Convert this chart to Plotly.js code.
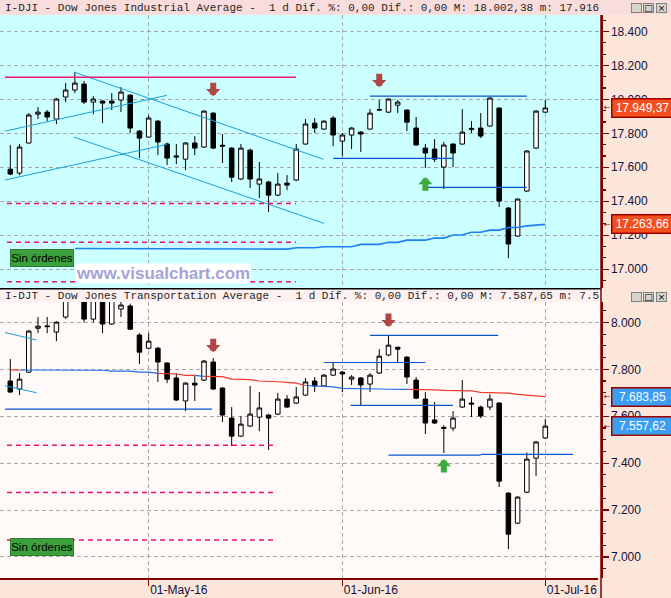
<!DOCTYPE html>
<html><head><meta charset="utf-8">
<script src="https://cdn.plot.ly/plotly-3.0.1.min.js"></script>
<style>html,body{margin:0;padding:0;background:#FCE6DA;overflow:hidden}#chart{width:671px;height:598px}</style>
</head><body><div id="chart"></div>
<script>
// ---------- DATA ----------
const dates = ['2016-04-11','2016-04-12','2016-04-13','2016-04-14','2016-04-15','2016-04-18','2016-04-19','2016-04-20','2016-04-21','2016-04-22','2016-04-25','2016-04-26','2016-04-27','2016-04-28','2016-04-29',
'2016-05-02','2016-05-03','2016-05-04','2016-05-05','2016-05-06','2016-05-09','2016-05-10','2016-05-11','2016-05-12','2016-05-13','2016-05-16','2016-05-17','2016-05-18','2016-05-19','2016-05-20','2016-05-23','2016-05-24','2016-05-25','2016-05-26','2016-05-27','2016-05-31',
'2016-06-01','2016-06-02','2016-06-03','2016-06-06','2016-06-07','2016-06-08','2016-06-09','2016-06-10','2016-06-13','2016-06-14','2016-06-15','2016-06-16','2016-06-17','2016-06-20','2016-06-21','2016-06-22','2016-06-23','2016-06-24','2016-06-27','2016-06-28','2016-06-29','2016-06-30',
'2016-07-01'];

const djiOpen  = [17589,17566,17743,17913,17925,17884,18014,18055,18090,17984,17990,17990,17996,18025,17813,17778,17872,17737,17660,17648,17743,17719,17919,17730,17713,17531,17701,17501,17513,17436,17507,17525,17737,17860,17825,17890,17754,17790,17807,17825,17937,17925,17966,17937,17831,17713,17707,17601,17737,17737,17822,17831,17843,17949,17360,17195,17460,17713,17925];
const djiHigh  = [17731,17737,17919,17955,17937,18008,18096,18161,18108,18019,17995,18037,18072,18030,17820,17908,17878,17745,17737,17748,17784,17935,17925,17796,17718,17737,17710,17631,17520,17566,17554,17737,17884,17890,17876,17902,17802,17836,17813,17943,17996,18005,17996,17940,17896,17737,17766,17749,17740,17943,17872,17919,18011,17952,17365,17416,17700,17935,17996];
const djiLow   = [17554,17554,17740,17884,17872,17854,17984,18037,17972,17913,17860,17937,17925,17802,17654,17775,17672,17613,17619,17584,17672,17715,17708,17625,17513,17525,17478,17419,17336,17430,17466,17520,17733,17802,17820,17725,17666,17707,17690,17820,17935,17920,17919,17813,17728,17595,17631,17472,17601,17733,17802,17772,17840,17366,17065,17190,17455,17708,17920];
const djiClose = [17560,17719,17908,17925,17896,18002,18055,18096,17984,18002,17978,17978,18043,17831,17772,17890,17749,17654,17666,17743,17713,17931,17713,17725,17542,17713,17531,17531,17436,17501,17495,17707,17855,17831,17872,17790,17790,17831,17796,17919,17939,18002,17984,17866,17731,17684,17648,17731,17684,17807,17829,17784,18008,17401,17148,17413,17696,17931,17949.37];
const djiMA    = [null,null,null,null,null,null,null,17122,17122,17122,17122,17122,17122,17122,17122,17122,17122,17122,17122,17122,17122,17122,17122,17122,17122,17122,17122,17122,17122,17118,17118,17126,17126,17126,17132,17132,17132,17132,17146,17146,17146,17158,17158,17171,17171,17171,17183,17183,17201,17201,17217,17217,17230,17230,17245,17245,17255,17260,17263.66];

const djtOpen  = [7750,7716,7788,7975,7985,7959,8023,8120,8160,8014,8110,7993,8057,8070,7946,7890,7890,7827,7763,7665,7741,7754,7831,7720,7592,7515,7558,7596,7605,7609,7673,7656,7690,7750,7729,7775,7788,7758,7763,7737,7784,7861,7894,7852,7754,7673,7584,7552,7549,7639,7656,7639,7639,7656,7272,7144,7276,7421,7507];
const djtHigh  = [7844,7784,7967,8023,8023,8005,8140,8200,8175,8130,8120,8110,8100,8080,7954,7954,7895,7830,7784,7745,7771,7840,7848,7724,7639,7600,7729,7703,7610,7699,7690,7724,7763,7767,7780,7827,7792,7775,7767,7784,7886,7942,7896,7856,7767,7703,7660,7562,7622,7754,7682,7645,7694,7660,7276,7258,7445,7494,7588];
const djtLow   = [7700,7690,7785,7954,7954,7920,8015,8100,8001,8001,7954,7990,8023,7968,7822,7885,7746,7741,7665,7622,7665,7750,7712,7575,7473,7512,7555,7536,7456,7605,7635,7652,7686,7703,7725,7771,7703,7733,7648,7703,7780,7856,7831,7737,7673,7524,7567,7443,7536,7635,7596,7592,7626,7298,7033,7140,7272,7345,7503];
const djtClose = [7703,7758,7963,7984,7982,8001,8120,8170,8014,8110,7993,8095,8074,7971,7873,7920,7831,7758,7669,7741,7733,7835,7716,7605,7515,7566,7609,7635,7592,7673,7639,7682,7746,7729,7775,7801,7780,7767,7733,7775,7856,7903,7886,7767,7677,7571,7571,7549,7592,7673,7652,7601,7673,7323,7097,7255,7417,7490,7557.62];
const djtMA    = [7797,7797,7797,7797,7797,7797,7797,7797,7797,7797,7796,7792,7792,7792,7788,7788,7783,7782,7780,7774,7774,7770,7770,7769,7758,7758,7756,7750,7750,7747,7744,7741,7731,7730,7728,7725,7719,7719,7718,7717,7716,7715,7715,7714,7714,7713,7712,7710,7710,7709,7708,7702,7701,7700,7698,7693,7690,7687,7683.85];
const djtMaRedSpans = [[0,1],[16,20],[21,32],[43,58]];   // trading-day index spans where the average is drawn red

// drawn studies (x in trading-day index, y in index points)
const djiChannelX = [[6.91,33.93],[6.91,33.98],[-0.58,16.99],[-0.58,16.99]];
const djiChannelY = [[18161,17647],[17778,17270],[17813,18024],[17525,17735]];
const djiResX = [-0.58,30.97], djiResLevel = 18130;
const djiDashX = [-0.36,30.97], djiDashLevels = [17387,17158,16926];
const djiBlueX = [[39.0,56.0],[35.0,48.0],[45.0,56.0]];
const djiBlueLevels = [18019,17652,17482];
const djiSellIdx = [22,40], djiSellLevel = [18019,18072];
const djiBuyIdx = [45], djiBuyLevel = [17542];

const djtChannelX = [[-0.58,2.86],[-0.58,2.86]];
const djtChannelY = [[7957,7925],[7730,7700]];
const djtDashX = [-0.36,28.7], djtDashLevels = [7476,7275,7072];
const djtBlueX = [[-0.58,21.87],[34.0,45.0],[39.0,52.9],[36.9,48.0],[41.0,51.0],[51.0,61.0]];
const djtBlueLevels = [7630,7829,7945,7646,7434,7437];
const djtSellIdx = [22,41], djtSellLevel = [7873,7980];
const djtBuyIdx = [47], djtBuyLevel = [7417];

const monthNames = ['Jan','Feb','Mar','Apr','May','Jun','Jul','Aug','Sep','Oct','Nov','Dec'];
const titleDJI = 'I-DJI - Dow Jones Industrial Average -\u00a0\u00a01 d Dif. %: 0,00 Dif.: 0,00 M: 18.002,38 m: 17.916';
const titleDJT = 'I-DJT - Dow Jones Transportation Average -\u00a0\u00a01 d Dif. %: 0,00 Dif.: 0,00 M: 7.587,65 m: 7.5';

// ---------- BUILD ----------
const idx = dates.map((d,i)=>i);
const tickvals = [], ticktext = [];
for (let i=1;i<dates.length;i++){
  if (dates[i].slice(5,7)!==dates[i-1].slice(5,7)){
    tickvals.push(i);
    const p = dates[i].split('-');
    ticktext.push('01-'+monthNames[+p[1]-1]+'-'+p[0].slice(2));
  }
}
function fmtEs(v){ const s=v.toFixed(2).split('.'); return s[0].replace(/\B(?=(\d{3})+(?!\d))/g,'.')+','+s[1]; }

const traces = [];
function seg(xs, ys, ax, color, width, dash){
  traces.push({type:'scatter', mode:'lines', x:xs, y:ys, yaxis:ax, xaxis:'x',
    line:{color:color, width:width, dash:dash||'solid'}, hoverinfo:'skip'});
}
// top panel studies
djiChannelX.forEach((xs,k)=>seg(xs, djiChannelY[k], 'y', '#1AA0DC', 1));
seg(djiResX, [djiResLevel,djiResLevel], 'y', '#F0187A', 1.4);
djiDashLevels.forEach(l=>seg(djiDashX,[l,l],'y','#E8106E',1.5,'5px,4px'));
djiBlueX.forEach((xs,k)=>seg(xs,[djiBlueLevels[k],djiBlueLevels[k]],'y','#0A55D0',1.2));
seg(idx, djiMA, 'y', '#1E80F0', 1.6);
// bottom panel studies
djtChannelX.forEach((xs,k)=>seg(xs, djtChannelY[k], 'y2', '#1AA0DC', 1));
djtDashLevels.forEach(l=>seg(djtDashX,[l,l],'y2','#E8106E',1.5,'5px,4px'));
djtBlueX.forEach((xs,k)=>seg(xs,[djtBlueLevels[k],djtBlueLevels[k]],'y2','#0A55D0',1.2));
// MA split red/blue
(function(){
  const n = djtMA.length;
  const spans = [];
  let cur = 0;
  djtMaRedSpans.forEach(s=>{ if (s[0]>cur) spans.push([cur,s[0],'#1E6FF0']); spans.push([s[0],s[1],'#F03A30']); cur=s[1]; });
  if (cur<n-1) spans.push([cur,n-1,'#1E6FF0']);
  spans.forEach(s=>{
    const xs=[], ys=[];
    for(let i=s[0];i<=s[1];i++){ xs.push(i); ys.push(djtMA[i]); }
    seg(xs, ys, 'y2', s[2], 1.2);
  });
})();

const candleStyle = {
  increasing:{line:{color:'#000000',width:1}, fillcolor:'#FFFFFF'},
  decreasing:{line:{color:'#000000',width:1}, fillcolor:'#000000'},
  whiskerwidth:0, hoverinfo:'skip'
};
traces.push(Object.assign({type:'candlestick', x:idx, open:djiOpen, high:djiHigh, low:djiLow, close:djiClose, xaxis:'x', yaxis:'y'}, candleStyle));
traces.push(Object.assign({type:'candlestick', x:idx, open:djtOpen, high:djtHigh, low:djtLow, close:djtClose, xaxis:'x', yaxis:'y2'}, candleStyle));

// ---------- LAYOUT ----------
const H = 578; // plot height in px (598-20)
const py = p => (H - p)/H;          // pixel row -> paper y
const W = 601;
const px = p => p/W;                // pixel col -> paper x

const gridStyle = {showgrid:true, gridcolor:'#A8A8A8', griddash:'4px,3px', gridwidth:1, zeroline:false};
const tickFont = {family:'Liberation Sans, Arial, sans-serif', size:12, color:'#10103A'};

const annotations = [];
const shapes = [];

// panel backgrounds & bars
shapes.push({type:'rect', xref:'x domain', yref:'y domain', x0:0, x1:1, y0:0, y1:1, fillcolor:'#CCFFFF', line:{width:0}, layer:'below'});
shapes.push({type:'rect', xref:'paper', yref:'paper', x0:0, x1:1.12, y0:py(14.5), y1:1.01, fillcolor:'#F9DCDC', line:{width:0}, layer:'below'});
shapes.push({type:'rect', xref:'paper', yref:'paper', x0:0, x1:1, y0:py(302), y1:py(289), fillcolor:'#FDF0F0', line:{width:0}, layer:'below'});
shapes.push({type:'line', xref:'paper', yref:'paper', x0:0, x1:1, y0:py(288.8), y1:py(288.8), line:{color:'#000000', width:1.5}});
shapes.push({type:'rect', xref:'paper', yref:'paper', x0:px(598), x1:1.12, y0:-0.05, y1:0, fillcolor:'#FCE6DA', line:{width:0}, layer:'above'});
shapes.push({type:'line', xref:'paper', yref:'paper', x0:1, x1:1, y0:-0.05, y1:py(15), line:{color:'#800000', width:1.5}, layer:'above'});

// title bars
const titleFont = {family:'Liberation Mono, Courier New, monospace', size:11, color:'#262626'};
annotations.push({xref:'paper', yref:'paper', x:px(3), y:py(7.5), xanchor:'left', yanchor:'middle', text:titleDJI, showarrow:false, font:titleFont});
annotations.push({xref:'paper', yref:'paper', x:px(3), y:py(296), xanchor:'left', yanchor:'middle', text:titleDJT, showarrow:false, font:titleFont});
// window buttons
[[4,13],[293,302]].forEach(r=>{
  ['_','\u25A1','\u00D7'].forEach((t,k)=>{
    annotations.push({xref:'paper', yref:'paper', x:px(631+k*12.3), y:py((r[0]+r[1])/2), xanchor:'left', yanchor:'middle',
      text:t, showarrow:false, width:9, height:8, borderpad:0, bgcolor:'#D8D4CC', bordercolor:'#808080', borderwidth:1,
      font:{family:'DejaVu Sans, sans-serif', size:9, color:'#000'}});
  });
});

// badges
function badge(val, yref, bg){
  annotations.push({xref:'paper', yref:yref, x:px(611), y:val, xanchor:'left', yanchor:'middle', text:fmtEs(val), showarrow:false,
    width:58, height:15, borderpad:1, bgcolor:bg, bordercolor:'#A00000', borderwidth:1.5,
    font:{family:'Liberation Sans, Arial, sans-serif', size:12, color:'#FFFFFF'}});
  annotations.push({xref:'paper', yref:yref, x:px(602), y:val, xanchor:'left', yanchor:'middle', text:'\u2190', showarrow:false,
    font:{family:'DejaVu Sans, sans-serif', size:8, color:'#800000'}});
}
badge(djiClose[djiClose.length-1], 'y', '#F24E1E');
badge(djiMA[djiMA.length-1], 'y', '#F24E1E');
badge(djtMA[djtMA.length-1], 'y2', '#3A9EF5');
badge(djtClose[djtClose.length-1], 'y2', '#3A9EF5');

// signal arrows
function arrow(i, lvl, yref, down){
  annotations.push({xref:'x', yref:yref, x:i, y:lvl, text:'', showarrow:true, ax:0, ay: down?-15:15,
    arrowhead:1, arrowsize:0.4, arrowwidth:6, standoff:0, arrowcolor: down?'#B04646':'#3CAA3C'});
}
djiSellIdx.forEach((i,k)=>arrow(i, djiSellLevel[k], 'y', true));
djiBuyIdx.forEach((i,k)=>arrow(i, djiBuyLevel[k], 'y', false));
djtSellIdx.forEach((i,k)=>arrow(i, djtSellLevel[k], 'y2', true));
djtBuyIdx.forEach((i,k)=>arrow(i, djtBuyLevel[k], 'y2', false));

// "Sin órdenes" boxes
[249, 538].forEach(t=>{
  annotations.push({xref:'paper', yref:'paper', x:px(9.5), y:py(t), xanchor:'left', yanchor:'top', text:'Sin órdenes', showarrow:false,
    width:60, height:14, borderpad:1, bgcolor:'#3CA03C', bordercolor:'#2C7C2C', borderwidth:1,
    font:{family:'Liberation Sans, Arial, sans-serif', size:11.5, color:'#000000'}});
});
// watermark
annotations.push({xref:'paper', yref:'paper', x:px(75), y:py(273), xanchor:'left', yanchor:'middle', text:'www.visualchart.com', showarrow:false,
  bgcolor:'#FFFFFF', borderpad:0, font:{family:'Liberation Sans, Arial, sans-serif', size:17, color:'#A4A4D6', weight:'bold'}});

const layout = {
  width:671, height:598,
  margin:{l:0, r:70, t:0, b:20, pad:0},
  paper_bgcolor:'#FCE6DA', plot_bgcolor:'#FFF9F8',
  separators:',.', showlegend:false, dragmode:false,
  xaxis: Object.assign({type:'linear', range:[-1.117, 64.04], anchor:'y2', rangeslider:{visible:false},
    tickmode:'array', tickvals:tickvals, ticktext:ticktext, ticks:'outside', ticklen:6, tickcolor:'#800000', tickwidth:1.5,
    showline:true, linecolor:'#800000', linewidth:1.5, ticklabelposition:'outside right', tickfont:tickFont}, gridStyle),
  yaxis: Object.assign({domain:[py(288), py(15)], range:[16889, 18497], side:'right', anchor:'x',
    tick0:0, dtick:200, tickformat:',.0f', ticks:'outside', ticklen:6, tickcolor:'#800000', tickwidth:1.2,
    showline:true, linecolor:'#800000', linewidth:1.5, tickfont:tickFont,
    minor:{tick0:0, dtick:200/3, ticks:'outside', ticklen:3.5, tickcolor:'#800000', tickwidth:1.2, showgrid:false}}, gridStyle),
  yaxis2: Object.assign({domain:[0, py(302)], range:[6910, 8087], side:'right', anchor:'x',
    tick0:0, dtick:200, tickformat:',.0f', ticks:'outside', ticklen:6, tickcolor:'#800000', tickwidth:1.2,
    showline:true, linecolor:'#800000', linewidth:1.5, tickfont:tickFont,
    minor:{tick0:0, dtick:50, ticks:'outside', ticklen:3.5, tickcolor:'#800000', tickwidth:1.2, showgrid:false}}, gridStyle),
  shapes:shapes, annotations:annotations
};

Plotly.newPlot('chart', traces, layout, {staticPlot:true, displayModeBar:false});
</script>
</body></html>
